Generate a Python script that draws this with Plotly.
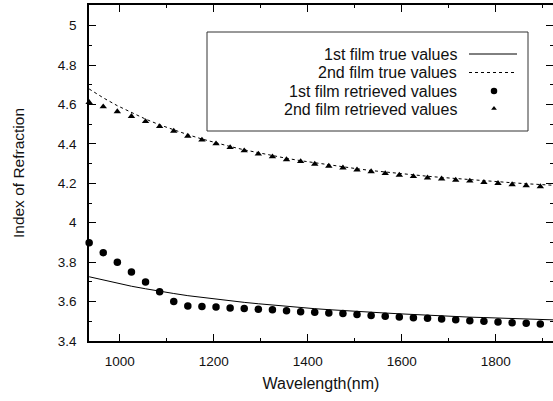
import plotly.graph_objects as go

# ---------------- data ----------------
wavelength = [935, 965, 995, 1025, 1055, 1085, 1115, 1145, 1175, 1205, 1235, 1265,
              1295, 1325, 1355, 1385, 1415, 1445, 1475, 1505, 1535, 1565, 1595, 1625,
              1655, 1685, 1715, 1745, 1775, 1805, 1835, 1865, 1895, 1925]

film1_true = [3.726, 3.709, 3.693, 3.678, 3.665, 3.652, 3.641, 3.630, 3.621, 3.612, 3.604, 3.596,
              3.589, 3.582, 3.576, 3.570, 3.564, 3.559, 3.554, 3.550, 3.546, 3.542, 3.538, 3.534,
              3.531, 3.527, 3.524, 3.521, 3.519, 3.516, 3.514, 3.511, 3.509, 3.507]

film2_true = [4.679, 4.634, 4.594, 4.558, 4.526, 4.497, 4.471, 4.447, 4.425, 4.405, 4.387, 4.370,
              4.355, 4.341, 4.327, 4.315, 4.304, 4.293, 4.283, 4.274, 4.265, 4.257, 4.250, 4.243,
              4.236, 4.230, 4.224, 4.218, 4.213, 4.208, 4.203, 4.198, 4.194, 4.190]

film1_retrieved = [3.899, 3.848, 3.800, 3.750, 3.700, 3.650, 3.600, 3.578, 3.575, 3.572, 3.568, 3.565,
                   3.561, 3.558, 3.554, 3.549, 3.546, 3.542, 3.539, 3.534, 3.530, 3.525, 3.522, 3.518,
                   3.515, 3.512, 3.508, 3.503, 3.500, 3.496, 3.493, 3.490, 3.486, 3.483]

film2_retrieved = [4.611, 4.589, 4.564, 4.540, 4.514, 4.489, 4.465, 4.440, 4.420, 4.401, 4.382, 4.366,
                   4.349, 4.335, 4.321, 4.311, 4.298, 4.288, 4.279, 4.269, 4.260, 4.250, 4.242, 4.235,
                   4.228, 4.223, 4.217, 4.212, 4.205, 4.200, 4.194, 4.189, 4.184, 4.179]

legend_labels = ["1st film true values", "2nd film true values",
                 "1st film retrieved values", "2nd film retrieved values"]

x_title = "Wavelength(nm)"
y_title = "Index of Refraction"

# ---------------- layout constants ----------------
W, H = 553, 401
ML, MR, MT, MB = 89, 0, 5, 60
PW, PH = W - ML - MR, H - MT - MB
FONT = "Liberation Sans, Arial, Helvetica, sans-serif"
X_RANGE = [934.7, 1922]
Y_RANGE = [3.4, 5.105]
Y_MAJOR = [3.4, 3.6, 3.8, 4.0, 4.2, 4.4, 4.6, 4.8, 5.0]
Y_MINOR = [3.5, 3.7, 3.9, 4.1, 4.3, 4.5, 4.7, 4.9, 5.1]


def px(xp):
    return (xp - ML) / PW


def py(yp):
    return (H - MB - yp) / PH


fig = go.Figure()

fig.add_trace(go.Scatter(x=wavelength, y=film1_true, mode="lines",
                         line=dict(color="black", width=1), cliponaxis=False,
                         name=legend_labels[0]))
fig.add_trace(go.Scatter(x=wavelength, y=film2_true, mode="lines",
                         line=dict(color="black", width=1, dash="3px,3px"), cliponaxis=False,
                         name=legend_labels[1]))
fig.add_trace(go.Scatter(x=wavelength, y=film1_retrieved, mode="markers",
                         marker=dict(symbol="circle", size=7.5, color="black"), cliponaxis=False,
                         name=legend_labels[2]))
fig.add_trace(go.Scatter(x=wavelength, y=film2_retrieved, mode="markers",
                         marker=dict(symbol="triangle-up", size=6.5, color="black"), cliponaxis=False,
                         name=legend_labels[3]))

# invisible companion trace so the right-hand tick axis is drawn
fig.add_trace(go.Scatter(x=wavelength[:1], y=film1_true[:1], mode="markers",
                         marker=dict(size=1, opacity=0), yaxis="y2", hoverinfo="skip"))

# legend sample symbols on a hidden overlay (paper-like 0..1 axes)
leg_rows = [54, 72.5, 91, 109.5]
sym_x = 494
fig.add_trace(go.Scatter(x=[px(sym_x)], y=[py(leg_rows[2])], mode="markers",
                         marker=dict(symbol="circle", size=6.5, color="black"),
                         xaxis="x2", yaxis="y3", hoverinfo="skip", cliponaxis=False))
fig.add_trace(go.Scatter(x=[px(sym_x)], y=[py(leg_rows[3]) + 0.003], mode="markers",
                         marker=dict(symbol="triangle-up", size=5, color="black"),
                         xaxis="x2", yaxis="y3", hoverinfo="skip", cliponaxis=False))

shapes = [
    dict(type="rect", xref="paper", yref="paper", x0=px(207), x1=px(528), y0=py(131), y1=py(32),
         line=dict(color="#333", width=1), fillcolor="white", layer="below"),
    dict(type="line", xref="paper", yref="paper", x0=px(469), x1=px(517), y0=py(leg_rows[0]),
         y1=py(leg_rows[0]), line=dict(color="black", width=1)),
    dict(type="line", xref="paper", yref="paper", x0=px(469), x1=px(517), y0=py(leg_rows[1]),
         y1=py(leg_rows[1]), line=dict(color="black", width=1, dash="3px,3px")),
]

annotations = []
for lab, ry in zip(legend_labels, leg_rows):
    annotations.append(dict(text=lab, xref="paper", yref="paper", x=px(459), y=py(ry),
                            xanchor="right", yanchor="middle", showarrow=False,
                            font=dict(family=FONT, size=16, color="#111")))

axis_common = dict(showgrid=False, zeroline=False, ticks="inside", ticklen=7, tickwidth=1,
                   tickcolor="black", tickfont=dict(family=FONT, size=13.5, color="#111"))

fig.update_layout(
    width=W, height=H,
    margin=dict(l=ML, r=MR, t=MT, b=MB, autoexpand=False),
    paper_bgcolor="white", plot_bgcolor="white",
    showlegend=False,
    shapes=shapes,
    annotations=annotations,
    xaxis=dict(range=X_RANGE, tickvals=[1000, 1200, 1400, 1600, 1800], showline=True,
               linecolor="black", linewidth=1.5, mirror="ticks",
               minor=dict(tickvals=[1100, 1300, 1500, 1700, 1900], ticklen=3.5, ticks="inside",
                          tickcolor="black"),
               title=dict(text=x_title, font=dict(family=FONT, size=16, color="#111"), standoff=10),
               ticklabelstandoff=7, automargin=False, **axis_common),
    yaxis=dict(range=Y_RANGE, tickvals=Y_MAJOR,
               ticktext=["3.4", "3.6", "3.8", "4", "4.2", "4.4", "4.6", "4.8", "5"],
               showline=True, linecolor="black", linewidth=1.5, mirror=False,
               minor=dict(tickvals=Y_MINOR, ticklen=3.5, ticks="inside", tickcolor="black"),
               title=dict(text=y_title, font=dict(family=FONT, size=15.5, color="#111"), standoff=29),
               ticklabelstandoff=8, automargin=False, **axis_common),
    yaxis2=dict(range=Y_RANGE, overlaying="y", side="right", showline=False,
                tickvals=Y_MAJOR, showticklabels=False,
                minor=dict(tickvals=Y_MINOR, ticklen=3.5, ticks="inside", tickcolor="black"),
                **axis_common),
    xaxis2=dict(range=[0, 1], overlaying="x", visible=False),
    yaxis3=dict(range=[0, 1], overlaying="y", visible=False),
)

fig.write_html("out.html")
